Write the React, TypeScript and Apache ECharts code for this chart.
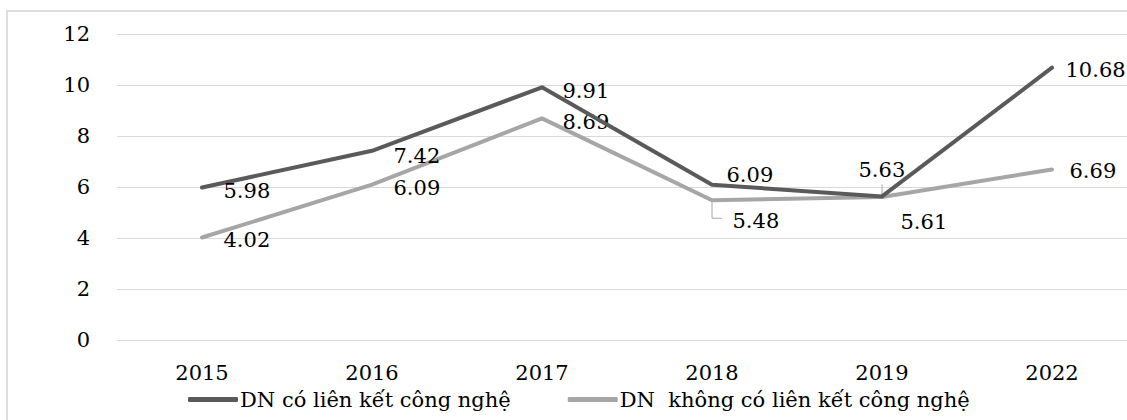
import React, { useEffect, useRef } from "react";
import * as echarts from "echarts";

const categories = ["2015", "2016", "2017", "2018", "2019", "2022"];
const withLink = [5.98, 7.42, 9.91, 6.09, 5.63, 10.68];
const withoutLink = [4.02, 6.09, 8.69, 5.48, 5.61, 6.69];
const seriesNames = ["DN có liên kết công nghệ", "DN  không có liên kết công nghệ"];
const yMin = 0;
const yMax = 12;
const yStep = 2;

// label offsets (style only)
const offsetsWith: [number, number][] = [[22, 4], [22, 6], [21, 4], [15, -9], [-23, -26], [14, 3]];
const offsetsWithout: [number, number][] = [[22, 3], [22, 4], [21, 4], [21, 21], [19, 26], [18, 2]];

const FONT = "DejaVu Serif";
const FS = 21;
const DARK = "#5a5a5a";
const LIGHT = "#a6a6a6";

function buildData(values: number[], offsets: [number, number][]) {
  return values.map((v, i) => ({
    value: v,
    label: { position: offsets[i] },
  }));
}

export default function App() {
  const ref = useRef<HTMLDivElement>(null);
  useEffect(() => {
    if (!ref.current) return;
    const chart = echarts.init(ref.current, null, { renderer: "svg" });
    const labelBase = {
      show: true,
      fontFamily: FONT,
      fontSize: FS,
      color: "#000",
      align: "left",
      verticalAlign: "middle",
      formatter: (p: any) => p.value.toFixed(2),
    };
    chart.setOption({
      animation: false,
      backgroundColor: "#fff",
      textStyle: { fontFamily: FONT },
      graphic: [
        {
          id: "border",
          type: "rect",
          shape: { x: 7, y: 11, width: 1300, height: 600 },
          style: { fill: "none", stroke: "#dedede", lineWidth: 2 },
          silent: true,
        },
      ],
      grid: { left: 117, top: 34, width: 1020, height: 306 },
      legend: {
        left: 183,
        top: 384,
        itemWidth: 50,
        itemHeight: 5,
        itemGap: 57,
        icon: "roundRect",
        textStyle: { fontFamily: FONT, fontSize: FS, color: "#000", padding: [0, 0, 0, -3] },
        data: seriesNames,
      },
      xAxis: {
        type: "category",
        data: categories,
        boundaryGap: true,
        axisLine: { show: false },
        axisTick: { show: false },
        axisLabel: { margin: 22, fontFamily: FONT, fontSize: FS, color: "#000" },
      },
      yAxis: {
        type: "value",
        min: yMin,
        max: yMax,
        interval: yStep,
        axisLine: { show: false },
        axisTick: { show: false },
        axisLabel: { margin: 27, fontFamily: FONT, fontSize: FS, color: "#000" },
        splitLine: { lineStyle: { color: "#d9d9d9", width: 1 } },
      },
      series: [
        {
          name: seriesNames[0],
          type: "line",
          data: buildData(withLink, offsetsWith),
          symbol: "circle",
          symbolSize: 1,
          showSymbol: true,
          color: DARK,
          itemStyle: { color: DARK },
          lineStyle: { color: DARK, width: 4, cap: "round", join: "round" },
          label: labelBase,
          z: 3,
        },
        {
          name: seriesNames[1],
          type: "line",
          data: buildData(withoutLink, offsetsWithout),
          symbol: "circle",
          symbolSize: 1,
          showSymbol: true,
          color: LIGHT,
          itemStyle: { color: LIGHT },
          lineStyle: { color: LIGHT, width: 4, cap: "round", join: "round" },
          label: labelBase,
          z: 2,
        },
      ],
    });
    const p1 = chart.convertToPixel({ gridIndex: 0 }, [categories[3], withoutLink[3]]) as number[];
    const p2 = chart.convertToPixel({ gridIndex: 0 }, [categories[4], withLink[4]]) as number[];
    chart.setOption({
      graphic: [
        {
          id: "lead1",
          type: "polyline",
          shape: { points: [[p1[0], p1[1] + 2], [p1[0], p1[1] + 18], [p1[0] + 10, p1[1] + 18]] },
          style: { fill: "none", stroke: LIGHT, lineWidth: 1 },
          z: 1,
          silent: true,
        },
        {
          id: "lead2",
          type: "line",
          shape: { x1: p2[0], y1: p2[1] - 2, x2: p2[0], y2: p2[1] - 12 },
          style: { stroke: LIGHT, lineWidth: 1 },
          z: 1,
          silent: true,
        },
      ],
    });
    return () => chart.dispose();
  }, []);
  return (
    <div
      ref={ref}
      style={{ position: "fixed", left: 0, top: 0, width: 1160, height: 420 }}
    />
  );
}
